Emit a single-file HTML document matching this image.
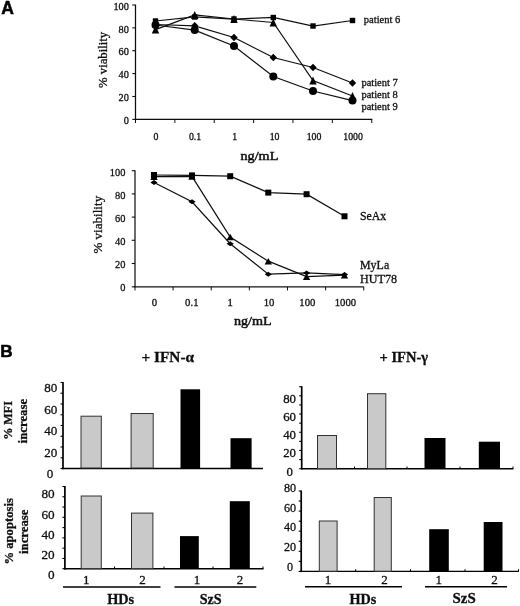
<!DOCTYPE html>
<html><head><meta charset="utf-8"><title>Figure</title>
<style>
html,body{margin:0;padding:0;background:#fff;}
body{width:520px;height:606px;overflow:hidden;font-family:"Liberation Serif",serif;}
svg{display:block;}
.ls{font-family:"Liberation Serif",serif;fill:#111;stroke:#111;stroke-width:0.3px;}
.la{font-family:"Liberation Sans",sans-serif;fill:#000;}
</style></head><body>
<svg width="520" height="606" viewBox="0 0 520 606">
<defs><filter id="soft" x="0" y="0" width="520" height="606" filterUnits="userSpaceOnUse"><feGaussianBlur stdDeviation="0.38"/></filter></defs>
<rect x="0" y="0" width="520" height="606" fill="#fff"/>
<g filter="url(#soft)">
<text x="1.3" y="13.8" font-size="17.5" class="la" font-weight="bold" style="stroke:#000;stroke-width:0.5px">A</text>
<text x="0.2" y="356.9" font-size="17.2" class="la" font-weight="bold" style="stroke:#000;stroke-width:0.5px">B</text>
<line x1="135.5" y1="4.6" x2="135.5" y2="119.9" stroke="#111" stroke-width="1.25"/>
<line x1="135.0" y1="119.4" x2="372.3" y2="119.4" stroke="#111" stroke-width="1.15"/>
<line x1="132.3" y1="5.0" x2="135.5" y2="5.0" stroke="#111" stroke-width="1.1"/>
<text x="128.9" y="9.7" font-size="10.3" class="ls" text-anchor="end">100</text>
<line x1="132.3" y1="27.85" x2="135.5" y2="27.85" stroke="#111" stroke-width="1.1"/>
<text x="128.9" y="32.55" font-size="10.3" class="ls" text-anchor="end">80</text>
<line x1="132.3" y1="50.7" x2="135.5" y2="50.7" stroke="#111" stroke-width="1.1"/>
<text x="128.9" y="55.4" font-size="10.3" class="ls" text-anchor="end">60</text>
<line x1="132.3" y1="73.6" x2="135.5" y2="73.6" stroke="#111" stroke-width="1.1"/>
<text x="128.9" y="78.3" font-size="10.3" class="ls" text-anchor="end">40</text>
<line x1="132.3" y1="96.5" x2="135.5" y2="96.5" stroke="#111" stroke-width="1.1"/>
<text x="128.9" y="101.2" font-size="10.3" class="ls" text-anchor="end">20</text>
<line x1="132.3" y1="119.4" x2="135.5" y2="119.4" stroke="#111" stroke-width="1.1"/>
<text x="128.9" y="124.1" font-size="10.3" class="ls" text-anchor="end">0</text>
<line x1="135.5" y1="119.4" x2="135.5" y2="123.0" stroke="#111" stroke-width="1.0"/>
<line x1="174.87" y1="119.4" x2="174.87" y2="123.0" stroke="#111" stroke-width="1.0"/>
<line x1="214.24" y1="119.4" x2="214.24" y2="123.0" stroke="#111" stroke-width="1.0"/>
<line x1="253.60999999999999" y1="119.4" x2="253.60999999999999" y2="123.0" stroke="#111" stroke-width="1.0"/>
<line x1="292.98" y1="119.4" x2="292.98" y2="123.0" stroke="#111" stroke-width="1.0"/>
<line x1="332.35" y1="119.4" x2="332.35" y2="123.0" stroke="#111" stroke-width="1.0"/>
<line x1="371.71999999999997" y1="119.4" x2="371.71999999999997" y2="123.0" stroke="#111" stroke-width="1.0"/>
<text x="156" y="140.2" font-size="9.8" class="ls" text-anchor="middle">0</text>
<text x="195" y="140.2" font-size="9.8" class="ls" text-anchor="middle">0.1</text>
<text x="234.6" y="140.2" font-size="9.8" class="ls" text-anchor="middle">1</text>
<text x="274.6" y="140.2" font-size="9.8" class="ls" text-anchor="middle">10</text>
<text x="314" y="140.2" font-size="9.8" class="ls" text-anchor="middle">100</text>
<text x="353.1" y="140.2" font-size="9.8" class="ls" text-anchor="middle">1000</text>
<text x="240.5" y="159.9" font-size="13.2" class="ls" textLength="37.8" lengthAdjust="spacingAndGlyphs" style="stroke-width:0.5px">ng/mL</text>
<text x="106.7" y="88.0" font-size="12.9" class="ls" textLength="56.2" lengthAdjust="spacingAndGlyphs" transform="rotate(-90 106.7 88.0)">% viability</text>
<polyline points="155.5,21 194.7,17 234,19 273.3,17.5 313,26 352.5,20.5" fill="none" stroke="#111" stroke-width="1.25"/>
<polyline points="155.5,29.6 194.7,15 234,19 273.3,22.5 313,80.5 352.5,96" fill="none" stroke="#111" stroke-width="1.25"/>
<polyline points="155.5,24.5 194.7,25.8 234,37.5 273.3,57.5 313,67.5 352.5,83" fill="none" stroke="#111" stroke-width="1.25"/>
<polyline points="155.5,25 194.7,30.1 234,46 273.3,76.5 313,91 352.5,100.6" fill="none" stroke="#111" stroke-width="1.25"/>
<rect x="152.8" y="18.3" width="5.4" height="5.4" fill="#000"/>
<rect x="192.0" y="14.3" width="5.4" height="5.4" fill="#000"/>
<rect x="231.3" y="16.3" width="5.4" height="5.4" fill="#000"/>
<rect x="270.6" y="14.8" width="5.4" height="5.4" fill="#000"/>
<rect x="310.3" y="23.3" width="5.4" height="5.4" fill="#000"/>
<rect x="349.8" y="17.8" width="5.4" height="5.4" fill="#000"/>
<polygon points="155.5,25.6 159.2,33.6 151.8,33.6" fill="#000"/>
<polygon points="194.7,11.0 198.39999999999998,19.0 191.0,19.0" fill="#000"/>
<polygon points="234,15.0 237.7,23.0 230.3,23.0" fill="#000"/>
<polygon points="273.3,18.5 277.0,26.5 269.6,26.5" fill="#000"/>
<polygon points="313,76.5 316.7,84.5 309.3,84.5" fill="#000"/>
<polygon points="352.5,92.0 356.2,100.0 348.8,100.0" fill="#000"/>
<polygon points="151.8,24.5 155.5,20.8 159.2,24.5 155.5,28.2" fill="#000"/>
<polygon points="191.0,25.8 194.7,22.1 198.39999999999998,25.8 194.7,29.5" fill="#000"/>
<polygon points="230.3,37.5 234,33.8 237.7,37.5 234,41.2" fill="#000"/>
<polygon points="269.6,57.5 273.3,53.8 277.0,57.5 273.3,61.2" fill="#000"/>
<polygon points="309.3,67.5 313,63.8 316.7,67.5 313,71.2" fill="#000"/>
<polygon points="348.8,83 352.5,79.3 356.2,83 352.5,86.7" fill="#000"/>
<circle cx="155.5" cy="25" r="4" fill="#000"/>
<circle cx="194.7" cy="30.1" r="4" fill="#000"/>
<circle cx="234" cy="46" r="4" fill="#000"/>
<circle cx="273.3" cy="76.5" r="4" fill="#000"/>
<circle cx="313" cy="91" r="4" fill="#000"/>
<circle cx="352.5" cy="100.6" r="4" fill="#000"/>
<text x="363.8" y="23.4" font-size="10.5" class="ls" textLength="36.6" lengthAdjust="spacingAndGlyphs">patient 6</text>
<text x="361.4" y="85.5" font-size="10.5" class="ls" textLength="36.4" lengthAdjust="spacingAndGlyphs">patient 7</text>
<text x="361.4" y="98.4" font-size="10.5" class="ls" textLength="36.4" lengthAdjust="spacingAndGlyphs">patient 8</text>
<text x="361.4" y="109.5" font-size="10.5" class="ls" textLength="36.4" lengthAdjust="spacingAndGlyphs">patient 9</text>
<line x1="135" y1="170.3" x2="135" y2="287.3" stroke="#111" stroke-width="1.25"/>
<line x1="134.5" y1="286.8" x2="363.8" y2="286.8" stroke="#111" stroke-width="1.15"/>
<line x1="131.8" y1="170.7" x2="135" y2="170.7" stroke="#111" stroke-width="1.1"/>
<text x="109.80000000000001" y="175.9" font-size="11.3" class="ls" textLength="15.600000000000001" lengthAdjust="spacingAndGlyphs">100</text>
<line x1="131.8" y1="193.9" x2="135" y2="193.9" stroke="#111" stroke-width="1.1"/>
<text x="115.0" y="199.0" font-size="11.3" class="ls" textLength="10.4" lengthAdjust="spacingAndGlyphs">80</text>
<line x1="131.8" y1="217.1" x2="135" y2="217.1" stroke="#111" stroke-width="1.1"/>
<text x="115.0" y="222.1" font-size="11.3" class="ls" textLength="10.4" lengthAdjust="spacingAndGlyphs">60</text>
<line x1="131.8" y1="240.3" x2="135" y2="240.3" stroke="#111" stroke-width="1.1"/>
<text x="115.0" y="245.2" font-size="11.3" class="ls" textLength="10.4" lengthAdjust="spacingAndGlyphs">40</text>
<line x1="131.8" y1="263.5" x2="135" y2="263.5" stroke="#111" stroke-width="1.1"/>
<text x="115.0" y="268.3" font-size="11.3" class="ls" textLength="10.4" lengthAdjust="spacingAndGlyphs">20</text>
<line x1="131.8" y1="286.8" x2="135" y2="286.8" stroke="#111" stroke-width="1.1"/>
<text x="120.2" y="291.4" font-size="11.3" class="ls" textLength="5.2" lengthAdjust="spacingAndGlyphs">0</text>
<line x1="135.0" y1="286.8" x2="135.0" y2="290.40000000000003" stroke="#111" stroke-width="1.0"/>
<line x1="173.12" y1="286.8" x2="173.12" y2="290.40000000000003" stroke="#111" stroke-width="1.0"/>
<line x1="211.24" y1="286.8" x2="211.24" y2="290.40000000000003" stroke="#111" stroke-width="1.0"/>
<line x1="249.35999999999999" y1="286.8" x2="249.35999999999999" y2="290.40000000000003" stroke="#111" stroke-width="1.0"/>
<line x1="287.48" y1="286.8" x2="287.48" y2="290.40000000000003" stroke="#111" stroke-width="1.0"/>
<line x1="325.6" y1="286.8" x2="325.6" y2="290.40000000000003" stroke="#111" stroke-width="1.0"/>
<line x1="363.71999999999997" y1="286.8" x2="363.71999999999997" y2="290.40000000000003" stroke="#111" stroke-width="1.0"/>
<text x="154.3" y="306.3" font-size="10.7" class="ls" text-anchor="middle">0</text>
<text x="191.8" y="306.3" font-size="10.7" class="ls" text-anchor="middle">0.1</text>
<text x="230.2" y="306.3" font-size="10.7" class="ls" text-anchor="middle">1</text>
<text x="269" y="306.3" font-size="10.7" class="ls" text-anchor="middle">10</text>
<text x="307.3" y="306.3" font-size="10.7" class="ls" text-anchor="middle">100</text>
<text x="345.4" y="306.3" font-size="10.7" class="ls" text-anchor="middle">1000</text>
<text x="233.9" y="325.1" font-size="13.2" class="ls" textLength="37.7" lengthAdjust="spacingAndGlyphs" style="stroke-width:0.5px">ng/mL</text>
<text x="101.6" y="253.6" font-size="13.5" class="ls" textLength="57.8" lengthAdjust="spacingAndGlyphs" transform="rotate(-90 101.6 253.6)">% viability</text>
<polyline points="154,175 192,175.4 230.2,176.2 268.3,192.6 306.6,194.2 344.5,216.3" fill="none" stroke="#111" stroke-width="1.25"/>
<polyline points="154,176.6 192,176.4 230.2,237 268.3,261.2 306.6,276.7 344.5,275.2" fill="none" stroke="#111" stroke-width="1.25"/>
<polyline points="154,182.5 192,201.8 230.2,243.7 268.3,274.2 306.6,273 344.5,274.6" fill="none" stroke="#111" stroke-width="1.25"/>
<rect x="151.0" y="172.0" width="6" height="6" fill="#000"/>
<rect x="189.0" y="172.4" width="6" height="6" fill="#000"/>
<rect x="227.2" y="173.2" width="6" height="6" fill="#000"/>
<rect x="265.3" y="189.6" width="6" height="6" fill="#000"/>
<rect x="303.6" y="191.2" width="6" height="6" fill="#000"/>
<rect x="341.5" y="213.3" width="6" height="6" fill="#000"/>
<polygon points="154,173.29999999999998 157.7,179.9 150.3,179.9" fill="#000"/>
<polygon points="192,173.1 195.7,179.70000000000002 188.3,179.70000000000002" fill="#000"/>
<polygon points="230.2,233.7 233.89999999999998,240.3 226.5,240.3" fill="#000"/>
<polygon points="268.3,257.9 272.0,264.5 264.6,264.5" fill="#000"/>
<polygon points="306.6,273.4 310.3,280.0 302.90000000000003,280.0" fill="#000"/>
<polygon points="344.5,271.9 348.2,278.5 340.8,278.5" fill="#000"/>
<polygon points="150.4,182.5 154,180.0 157.6,182.5 154,185.0" fill="#000"/>
<polygon points="188.4,201.8 192,199.3 195.6,201.8 192,204.3" fill="#000"/>
<polygon points="226.6,243.7 230.2,241.2 233.79999999999998,243.7 230.2,246.2" fill="#000"/>
<polygon points="264.7,274.2 268.3,271.7 271.90000000000003,274.2 268.3,276.7" fill="#000"/>
<polygon points="303.0,273 306.6,270.5 310.20000000000005,273 306.6,275.5" fill="#000"/>
<polygon points="340.9,274.6 344.5,272.1 348.1,274.6 344.5,277.1" fill="#000"/>
<text x="360" y="220" font-size="11.6" class="ls" textLength="26.2" lengthAdjust="spacingAndGlyphs">SeAx</text>
<text x="360" y="268.8" font-size="11.8" class="ls" textLength="29.2" lengthAdjust="spacingAndGlyphs">MyLa</text>
<text x="360" y="283.0" font-size="11.8" class="ls" textLength="37" lengthAdjust="spacingAndGlyphs">HUT78</text>
<text x="167.8" y="361.9" font-size="14" class="ls" text-anchor="middle" font-weight="bold" textLength="52.5" lengthAdjust="spacingAndGlyphs">+ IFN-α</text>
<text x="403.8" y="361.8" font-size="14" class="ls" text-anchor="middle" font-weight="bold" textLength="48.5" lengthAdjust="spacingAndGlyphs">+ IFN-γ</text>
<line x1="63.0" y1="382" x2="63.0" y2="469.2" stroke="#000" stroke-width="1.7"/>
<line x1="62.3" y1="468.5" x2="263" y2="468.5" stroke="#000" stroke-width="1.4"/>
<line x1="60.5" y1="468.5" x2="63.0" y2="468.5" stroke="#000" stroke-width="1.1"/>
<line x1="60.5" y1="457.75" x2="63.0" y2="457.75" stroke="#000" stroke-width="1.1"/>
<line x1="60.5" y1="447.0" x2="63.0" y2="447.0" stroke="#000" stroke-width="1.1"/>
<line x1="60.5" y1="436.25" x2="63.0" y2="436.25" stroke="#000" stroke-width="1.1"/>
<line x1="60.5" y1="425.5" x2="63.0" y2="425.5" stroke="#000" stroke-width="1.1"/>
<line x1="60.5" y1="414.75" x2="63.0" y2="414.75" stroke="#000" stroke-width="1.1"/>
<line x1="60.5" y1="404.0" x2="63.0" y2="404.0" stroke="#000" stroke-width="1.1"/>
<line x1="60.5" y1="393.25" x2="63.0" y2="393.25" stroke="#000" stroke-width="1.1"/>
<line x1="60.5" y1="382.5" x2="63.0" y2="382.5" stroke="#000" stroke-width="1.1"/>
<text x="57.4" y="392.3" font-size="13.1" class="ls" text-anchor="end">80</text>
<text x="57.4" y="413.8" font-size="13.1" class="ls" text-anchor="end">60</text>
<text x="57.4" y="435.3" font-size="13.1" class="ls" text-anchor="end">40</text>
<text x="57.4" y="456.5" font-size="13.1" class="ls" text-anchor="end">20</text>
<text x="53.3" y="477.5" font-size="13.1" class="ls" text-anchor="end">0</text>
<rect x="81.0" y="416.2" width="20.299999999999997" height="51.80000000000001" fill="#c9c9c9" stroke="#333" stroke-width="1"/>
<rect x="131.1" y="413.5" width="22.099999999999994" height="54.5" fill="#c9c9c9" stroke="#333" stroke-width="1"/>
<rect x="180.5" y="389.3" width="19.599999999999994" height="78.69999999999999" fill="#000"/>
<rect x="230.5" y="438.2" width="21.099999999999994" height="29.80000000000001" fill="#000"/>
<text x="12.4" y="439.8" font-size="12.2" class="ls" font-weight="bold" textLength="38.8" lengthAdjust="spacingAndGlyphs" transform="rotate(-90 12.4 439.8)">% MFI</text>
<text x="27.2" y="443.4" font-size="12.5" class="ls" font-weight="bold" textLength="44.6" lengthAdjust="spacingAndGlyphs" transform="rotate(-90 27.2 443.4)">increase</text>
<line x1="64.9" y1="486" x2="64.9" y2="569.4000000000001" stroke="#000" stroke-width="1.7"/>
<line x1="64.2" y1="568.7" x2="263.5" y2="568.7" stroke="#000" stroke-width="1.4"/>
<line x1="62.400000000000006" y1="568.7" x2="64.9" y2="568.7" stroke="#000" stroke-width="1.1"/>
<line x1="62.400000000000006" y1="558.4250000000001" x2="64.9" y2="558.4250000000001" stroke="#000" stroke-width="1.1"/>
<line x1="62.400000000000006" y1="548.1500000000001" x2="64.9" y2="548.1500000000001" stroke="#000" stroke-width="1.1"/>
<line x1="62.400000000000006" y1="537.875" x2="64.9" y2="537.875" stroke="#000" stroke-width="1.1"/>
<line x1="62.400000000000006" y1="527.6" x2="64.9" y2="527.6" stroke="#000" stroke-width="1.1"/>
<line x1="62.400000000000006" y1="517.325" x2="64.9" y2="517.325" stroke="#000" stroke-width="1.1"/>
<line x1="62.400000000000006" y1="507.05" x2="64.9" y2="507.05" stroke="#000" stroke-width="1.1"/>
<line x1="62.400000000000006" y1="496.775" x2="64.9" y2="496.775" stroke="#000" stroke-width="1.1"/>
<line x1="62.400000000000006" y1="486.5" x2="64.9" y2="486.5" stroke="#000" stroke-width="1.1"/>
<line x1="114.5" y1="568.7" x2="114.5" y2="566.5" stroke="#000" stroke-width="1.0"/>
<line x1="164" y1="568.7" x2="164" y2="566.5" stroke="#000" stroke-width="1.0"/>
<line x1="213" y1="568.7" x2="213" y2="566.5" stroke="#000" stroke-width="1.0"/>
<line x1="263" y1="568.7" x2="263" y2="566.5" stroke="#000" stroke-width="1.0"/>
<text x="54.6" y="498.15" font-size="13.2" class="ls" text-anchor="end">80</text>
<text x="54.6" y="518.65" font-size="13.2" class="ls" text-anchor="end">60</text>
<text x="54.6" y="538.65" font-size="13.2" class="ls" text-anchor="end">40</text>
<text x="54.6" y="558.9" font-size="13.2" class="ls" text-anchor="end">20</text>
<text x="54.6" y="578.65" font-size="13.2" class="ls" text-anchor="end">0</text>
<rect x="81.2" y="496.0" width="20.099999999999994" height="72.60000000000002" fill="#c9c9c9" stroke="#333" stroke-width="1"/>
<rect x="131.5" y="513.1" width="21.400000000000006" height="55.5" fill="#c9c9c9" stroke="#333" stroke-width="1"/>
<rect x="180" y="536.1" width="18.80000000000001" height="32.5" fill="#000"/>
<rect x="229.8" y="501.2" width="20.0" height="67.40000000000003" fill="#000"/>
<text x="12.7" y="564.6" font-size="12.5" class="ls" font-weight="bold" textLength="66.5" lengthAdjust="spacingAndGlyphs" transform="rotate(-90 12.7 564.6)">% apoptosis</text>
<text x="27.6" y="554.0" font-size="12.7" class="ls" font-weight="bold" textLength="44.5" lengthAdjust="spacingAndGlyphs" transform="rotate(-90 27.6 554.0)">increase</text>
<text x="86.3" y="583.8" font-size="13" class="ls" text-anchor="middle">1</text>
<text x="142.5" y="583.8" font-size="13" class="ls" text-anchor="middle">2</text>
<text x="197" y="583.8" font-size="13" class="ls" text-anchor="middle">1</text>
<text x="240" y="583.8" font-size="13" class="ls" text-anchor="middle">2</text>
<line x1="63" y1="587" x2="160.5" y2="587" stroke="#000" stroke-width="1.4"/>
<line x1="174.5" y1="587" x2="256.3" y2="587" stroke="#000" stroke-width="1.4"/>
<text x="107.2" y="603.8" font-size="14.3" class="ls" font-weight="bold" textLength="27" lengthAdjust="spacingAndGlyphs">HDs</text>
<text x="199.7" y="603.8" font-size="14.3" class="ls" font-weight="bold" textLength="22" lengthAdjust="spacingAndGlyphs">SzS</text>
<line x1="301.7" y1="386.2" x2="301.7" y2="469.4" stroke="#000" stroke-width="1.7"/>
<line x1="301.0" y1="468.7" x2="513.3" y2="468.7" stroke="#000" stroke-width="1.4"/>
<line x1="299.2" y1="468.7" x2="301.7" y2="468.7" stroke="#000" stroke-width="1.1"/>
<line x1="299.2" y1="459.5888888888889" x2="301.7" y2="459.5888888888889" stroke="#000" stroke-width="1.1"/>
<line x1="299.2" y1="450.47777777777776" x2="301.7" y2="450.47777777777776" stroke="#000" stroke-width="1.1"/>
<line x1="299.2" y1="441.3666666666667" x2="301.7" y2="441.3666666666667" stroke="#000" stroke-width="1.1"/>
<line x1="299.2" y1="432.25555555555553" x2="301.7" y2="432.25555555555553" stroke="#000" stroke-width="1.1"/>
<line x1="299.2" y1="423.14444444444445" x2="301.7" y2="423.14444444444445" stroke="#000" stroke-width="1.1"/>
<line x1="299.2" y1="414.0333333333333" x2="301.7" y2="414.0333333333333" stroke="#000" stroke-width="1.1"/>
<line x1="299.2" y1="404.9222222222222" x2="301.7" y2="404.9222222222222" stroke="#000" stroke-width="1.1"/>
<line x1="299.2" y1="395.81111111111113" x2="301.7" y2="395.81111111111113" stroke="#000" stroke-width="1.1"/>
<line x1="299.2" y1="386.7" x2="301.7" y2="386.7" stroke="#000" stroke-width="1.1"/>
<line x1="354.5" y1="468.7" x2="354.5" y2="466.5" stroke="#000" stroke-width="1.0"/>
<line x1="407" y1="468.7" x2="407" y2="466.5" stroke="#000" stroke-width="1.0"/>
<line x1="460" y1="468.7" x2="460" y2="466.5" stroke="#000" stroke-width="1.0"/>
<line x1="513" y1="468.7" x2="513" y2="466.5" stroke="#000" stroke-width="1.0"/>
<text x="289.6" y="475.5" font-size="12.8" class="ls" text-anchor="middle">0</text>
<text x="289.6" y="457.45" font-size="12.8" class="ls" text-anchor="middle">20</text>
<text x="289.6" y="439.4" font-size="12.8" class="ls" text-anchor="middle">40</text>
<text x="289.6" y="421.35" font-size="12.8" class="ls" text-anchor="middle">60</text>
<text x="289.6" y="403.3" font-size="12.8" class="ls" text-anchor="middle">80</text>
<rect x="317.5" y="435.5" width="19" height="33.19999999999999" fill="#c9c9c9" stroke="#333" stroke-width="1"/>
<rect x="367.5" y="393.7" width="18.30000000000001" height="75.0" fill="#c9c9c9" stroke="#333" stroke-width="1"/>
<rect x="424.5" y="438" width="21.0" height="30.69999999999999" fill="#000"/>
<rect x="478.8" y="441.7" width="21.19999999999999" height="27.0" fill="#000"/>
<line x1="301.2" y1="490.5" x2="301.2" y2="572.1" stroke="#000" stroke-width="1.7"/>
<line x1="300.5" y1="571.4" x2="518.8" y2="571.4" stroke="#000" stroke-width="1.4"/>
<line x1="298.7" y1="571.4" x2="301.2" y2="571.4" stroke="#000" stroke-width="1.1"/>
<line x1="298.7" y1="561.35" x2="301.2" y2="561.35" stroke="#000" stroke-width="1.1"/>
<line x1="298.7" y1="551.3" x2="301.2" y2="551.3" stroke="#000" stroke-width="1.1"/>
<line x1="298.7" y1="541.25" x2="301.2" y2="541.25" stroke="#000" stroke-width="1.1"/>
<line x1="298.7" y1="531.2" x2="301.2" y2="531.2" stroke="#000" stroke-width="1.1"/>
<line x1="298.7" y1="521.15" x2="301.2" y2="521.15" stroke="#000" stroke-width="1.1"/>
<line x1="298.7" y1="511.1" x2="301.2" y2="511.1" stroke="#000" stroke-width="1.1"/>
<line x1="298.7" y1="501.05" x2="301.2" y2="501.05" stroke="#000" stroke-width="1.1"/>
<line x1="298.7" y1="491.0" x2="301.2" y2="491.0" stroke="#000" stroke-width="1.1"/>
<line x1="355.7" y1="571.4" x2="355.7" y2="569.1999999999999" stroke="#000" stroke-width="1.0"/>
<line x1="410.5" y1="571.4" x2="410.5" y2="569.1999999999999" stroke="#000" stroke-width="1.0"/>
<line x1="465" y1="571.4" x2="465" y2="569.1999999999999" stroke="#000" stroke-width="1.0"/>
<line x1="518.5" y1="571.4" x2="518.5" y2="569.1999999999999" stroke="#000" stroke-width="1.0"/>
<text x="290.0" y="570.7" font-size="12.1" class="ls" text-anchor="middle">0</text>
<text x="290.0" y="551.0" font-size="12.1" class="ls" text-anchor="middle">20</text>
<text x="290.0" y="531.3" font-size="12.1" class="ls" text-anchor="middle">40</text>
<text x="290.0" y="511.6" font-size="12.1" class="ls" text-anchor="middle">60</text>
<text x="290.0" y="491.9" font-size="12.1" class="ls" text-anchor="middle">80</text>
<rect x="319.3" y="521.0" width="17.80000000000001" height="50.200000000000045" fill="#c9c9c9" stroke="#333" stroke-width="1"/>
<rect x="374.2" y="497.5" width="17.100000000000023" height="73.70000000000005" fill="#c9c9c9" stroke="#333" stroke-width="1"/>
<rect x="429.2" y="529.2" width="19.600000000000023" height="42.0" fill="#000"/>
<rect x="483.7" y="522" width="18.80000000000001" height="49.200000000000045" fill="#000"/>
<text x="328" y="583.8" font-size="13" class="ls" text-anchor="middle">1</text>
<text x="384.5" y="583.8" font-size="13" class="ls" text-anchor="middle">2</text>
<text x="438.7" y="583.8" font-size="13" class="ls" text-anchor="middle">1</text>
<text x="494.5" y="583.8" font-size="13" class="ls" text-anchor="middle">2</text>
<line x1="305" y1="586.8" x2="402" y2="586.8" stroke="#000" stroke-width="1.4"/>
<line x1="425" y1="586.8" x2="507" y2="586.8" stroke="#000" stroke-width="1.4"/>
<text x="349.5" y="603.9" font-size="14.3" class="ls" font-weight="bold" textLength="26.8" lengthAdjust="spacingAndGlyphs">HDs</text>
<text x="452.5" y="603.0" font-size="14.3" class="ls" font-weight="bold" textLength="23.2" lengthAdjust="spacingAndGlyphs">SzS</text>
</g>
</svg>
</body></html>
